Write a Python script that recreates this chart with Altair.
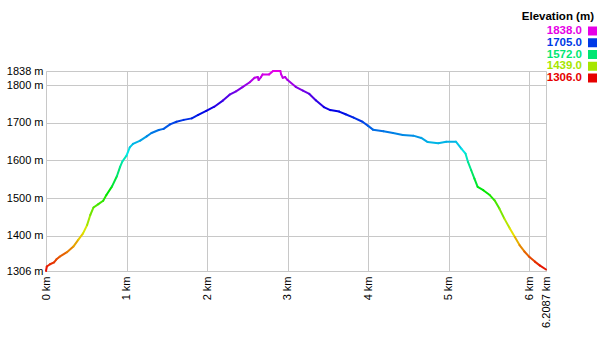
import altair as alt
import pandas as pd

dist_km = [0.00, 0.01, 0.05, 0.10, 0.13, 0.17, 0.26, 0.34, 0.40, 0.46,
           0.51, 0.55, 0.59, 0.65, 0.71, 0.75, 0.82, 0.88, 0.92, 0.95,
           1.00, 1.04, 1.08, 1.17, 1.25, 1.31, 1.40, 1.46, 1.54, 1.62,
           1.71, 1.81, 1.89, 1.99, 2.09, 2.20, 2.28, 2.36, 2.44, 2.53,
           2.59, 2.63, 2.64, 2.67, 2.69, 2.77, 2.82, 2.91, 2.92, 2.94,
           2.97, 3.00, 3.10, 3.19, 3.27, 3.35, 3.45, 3.53, 3.64, 3.72,
           3.82, 3.93, 4.00, 4.06, 4.19, 4.31, 4.43, 4.56, 4.66, 4.74,
           4.87, 4.97, 5.09, 5.16, 5.21, 5.24, 5.28, 5.32, 5.36, 5.43,
           5.51, 5.57, 5.63, 5.69, 5.76, 5.82, 5.88, 5.94, 6.00, 6.07,
           6.13, 6.2087]
elev_m = [1306, 1318, 1324, 1329, 1337, 1344, 1356, 1371, 1389, 1406,
          1428, 1455, 1475, 1484, 1493, 1508, 1531, 1558, 1583, 1598,
          1613, 1635, 1644, 1653, 1664, 1673, 1681, 1684, 1696, 1703,
          1708, 1712, 1721, 1732, 1743, 1760, 1775, 1784, 1795, 1808,
          1820, 1822, 1814, 1822, 1829, 1829, 1838, 1838, 1829, 1820,
          1822, 1814, 1796, 1786, 1777, 1760, 1742, 1734, 1730, 1723,
          1714, 1703, 1692, 1682, 1678, 1673, 1668, 1666, 1660, 1649,
          1646, 1650, 1650, 1631, 1618, 1596, 1574, 1552, 1530, 1521,
          1508, 1494, 1472, 1446, 1419, 1397, 1375, 1358, 1344, 1331,
          1321, 1310]

x_ticks = [0, 1, 2, 3, 4, 5, 6, 6.2087]
y_ticks = [1306, 1400, 1500, 1600, 1700, 1800, 1838]
legend_values = [1838.0, 1705.0, 1572.0, 1439.0, 1306.0]
legend_labels = ["1838.0", "1705.0", "1572.0", "1439.0", "1306.0"]
legend_colors = ["#e60000", "#a6e600", "#00e673", "#0039e6", "#e600e6"]
legend_title = "Elevation (m)"

FONT = "Liberation Sans"
GRID = "#c8c8c8"

seg = pd.DataFrame({
    "x": dist_km[:-1], "x2": dist_km[1:],
    "y": elev_m[:-1], "y2": elev_m[1:],
})
seg["mid"] = (seg["y"] + seg["y2"]) / 2

color_scale = alt.Scale(domain=[1306, 1439, 1572, 1705, 1838],
                        range=legend_colors, interpolate="hsl")

line = alt.Chart(seg).mark_rule(strokeWidth=2, strokeCap="round").encode(
    x=alt.X("x:Q", scale=alt.Scale(domain=[0, 6.2087], nice=False, zero=False),
            axis=alt.Axis(values=x_ticks, labelExpr="datum.value + ' km'",
                          labelAngle=270, title=None, ticks=False, domain=False,
                          gridColor=GRID, labelFont=FONT, labelFontSize=11,
                          labelColor="#000", labelPadding=5, labelOverlap=False,
                          labelFlush=False)),
    x2="x2:Q",
    y=alt.Y("y:Q", scale=alt.Scale(domain=[1306, 1838], nice=False, zero=False),
            axis=alt.Axis(values=y_ticks, labelExpr="datum.value + ' m'",
                          title=None, ticks=False, domain=False, gridColor=GRID,
                          labelFont=FONT, labelFontSize=11, labelColor="#000",
                          labelPadding=3, labelOverlap=False, labelFlush=False)),
    y2="y2:Q",
    color=alt.Color("mid:Q", scale=color_scale, legend=None),
)

leg = pd.DataFrame({"value": legend_values, "label": legend_labels})
leg_y = alt.Y("label:N", sort=legend_labels,
              scale=alt.Scale(type="point", domain=legend_labels, range=[-40, 7], padding=0),
              axis=None)

leg_text = alt.Chart(leg).mark_text(align="right", baseline="middle", font=FONT,
                                    fontSize=11.5, fontWeight="bold").encode(
    x=alt.value(536), y=leg_y, text="label:N",
    color=alt.Color("value:Q", scale=color_scale, legend=None),
)
leg_sq = alt.Chart(leg).mark_square(size=81, opacity=1).encode(
    x=alt.value(546.5), y=leg_y,
    color=alt.Color("value:Q", scale=color_scale, legend=None),
)
leg_title = alt.Chart(pd.DataFrame({"t": [legend_title]})).mark_text(
    align="right", baseline="middle", font=FONT, fontSize=11.5, fontWeight="bold",
    color="#000").encode(x=alt.value(548), y=alt.value(-54), text="t:N")

chart = alt.layer(line, leg_text, leg_sq, leg_title).resolve_scale(
    y="independent"
).properties(
    width=500, height=200,
    autosize=alt.AutoSizeParams(type="none"),
    padding={"left": 46, "top": 71, "right": 54, "bottom": 75},
).configure_view(stroke=None).configure(background="white")

chart.save("out.html", embed_options={"renderer": "svg", "actions": False})
